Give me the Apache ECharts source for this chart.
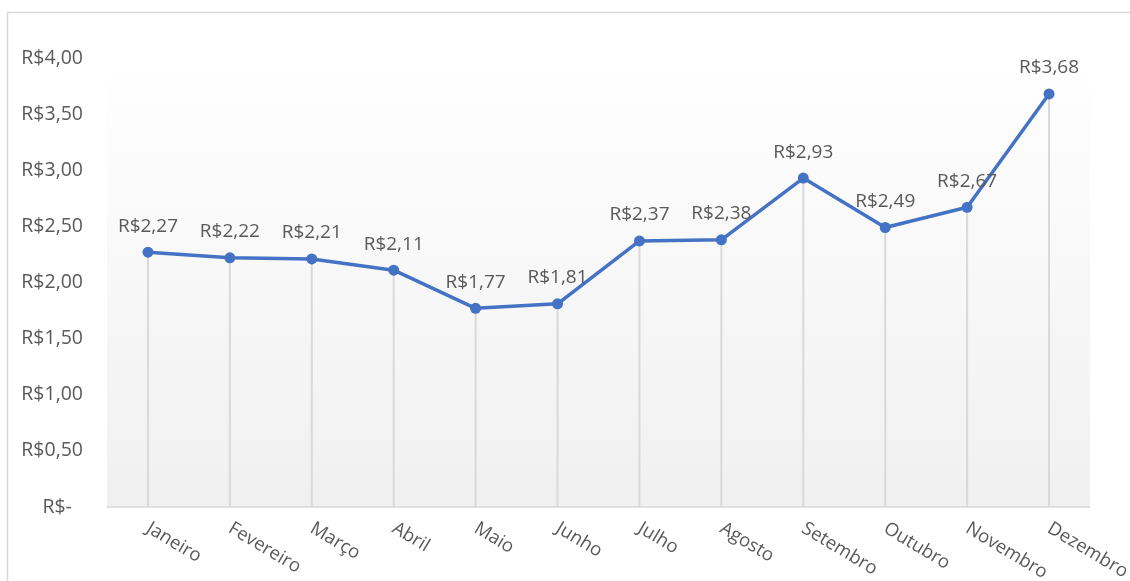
<!DOCTYPE html>
<html>
<head>
<meta charset="utf-8">
<script src="https://cdn.jsdelivr.net/npm/echarts@6/dist/echarts.min.js"></script>
<style>
  html, body { margin: 0; padding: 0; background: #fff; }
  #chart { width: 1130px; height: 581px; }
</style>
</head>
<body>
<div id="chart"></div>
<script>
const meses = ['Janeiro', 'Fevereiro', 'Março', 'Abril', 'Maio', 'Junho', 'Julho', 'Agosto', 'Setembro', 'Outubro', 'Novembro', 'Dezembro'];
const valores = [2.27, 2.22, 2.21, 2.11, 1.77, 1.81, 2.37, 2.38, 2.93, 2.49, 2.67, 3.68];

const fonte = '"Open Sans", sans-serif';
// formato contábil: zero vira "R$-"
const moeda = (v) => v === 0 ? 'R$-\u2007' : 'R$' + v.toFixed(2).replace('.', ',');

const myChart = echarts.init(document.getElementById('chart'));
const option = {
  animation: false,
  backgroundColor: '#fff',
  graphic: [
    {
      type: 'rect',
      shape: { x: 7.5, y: 12.5, width: 1200, height: 700 },
      style: { fill: 'none', stroke: '#d9d9d9', lineWidth: 1.5 },
      silent: true
    }
  ],
  grid: { left: 107, right: 40, top: 58, bottom: 74, show: true, borderWidth: 0,
    outerBoundsMode: 'none',
    containLabel: false,
    backgroundColor: new echarts.graphic.LinearGradient(0, 0, 0, 1, [
      { offset: 0, color: '#ffffff' },
      { offset: 1, color: '#f0f0f0' }
    ])
  },
  xAxis: {
    type: 'category',
    data: meses,
    boundaryGap: true,
    axisLine: { lineStyle: { color: '#d9d9d9', width: 1.5 } },
    axisTick: { show: false },
    axisLabel: { rotate: -31, color: '#595959', fontSize: 18.5, fontFamily: fonte, margin: 20 }
  },
  yAxis: {
    type: 'value',
    min: 0,
    max: 4,
    interval: 0.5,
    splitLine: { show: false },
    axisLine: { show: false },
    axisTick: { show: false },
    axisLabel: { color: '#595959', fontSize: 19.5, fontFamily: fonte, margin: 24, formatter: moeda }
  },
  series: [
    {
      type: 'bar',
      data: valores,
      barWidth: 2,
      silent: true,
      itemStyle: { color: '#d9d9d9' },
      z: 1
    },
    {
      type: 'line',
      data: valores,
      symbol: 'circle',
      symbolSize: 11,
      lineStyle: { color: '#4472c4', width: 3.5 },
      itemStyle: { color: '#4472c4' },
      label: {
        show: true,
        position: 'top',
        distance: 11,
        color: '#595959',
        fontSize: 19,
        fontFamily: fonte,
        formatter: (p) => moeda(p.value)
      },
      z: 3
    }
  ]
};
option && myChart.setOption(option);
</script>
</body>
</html>
